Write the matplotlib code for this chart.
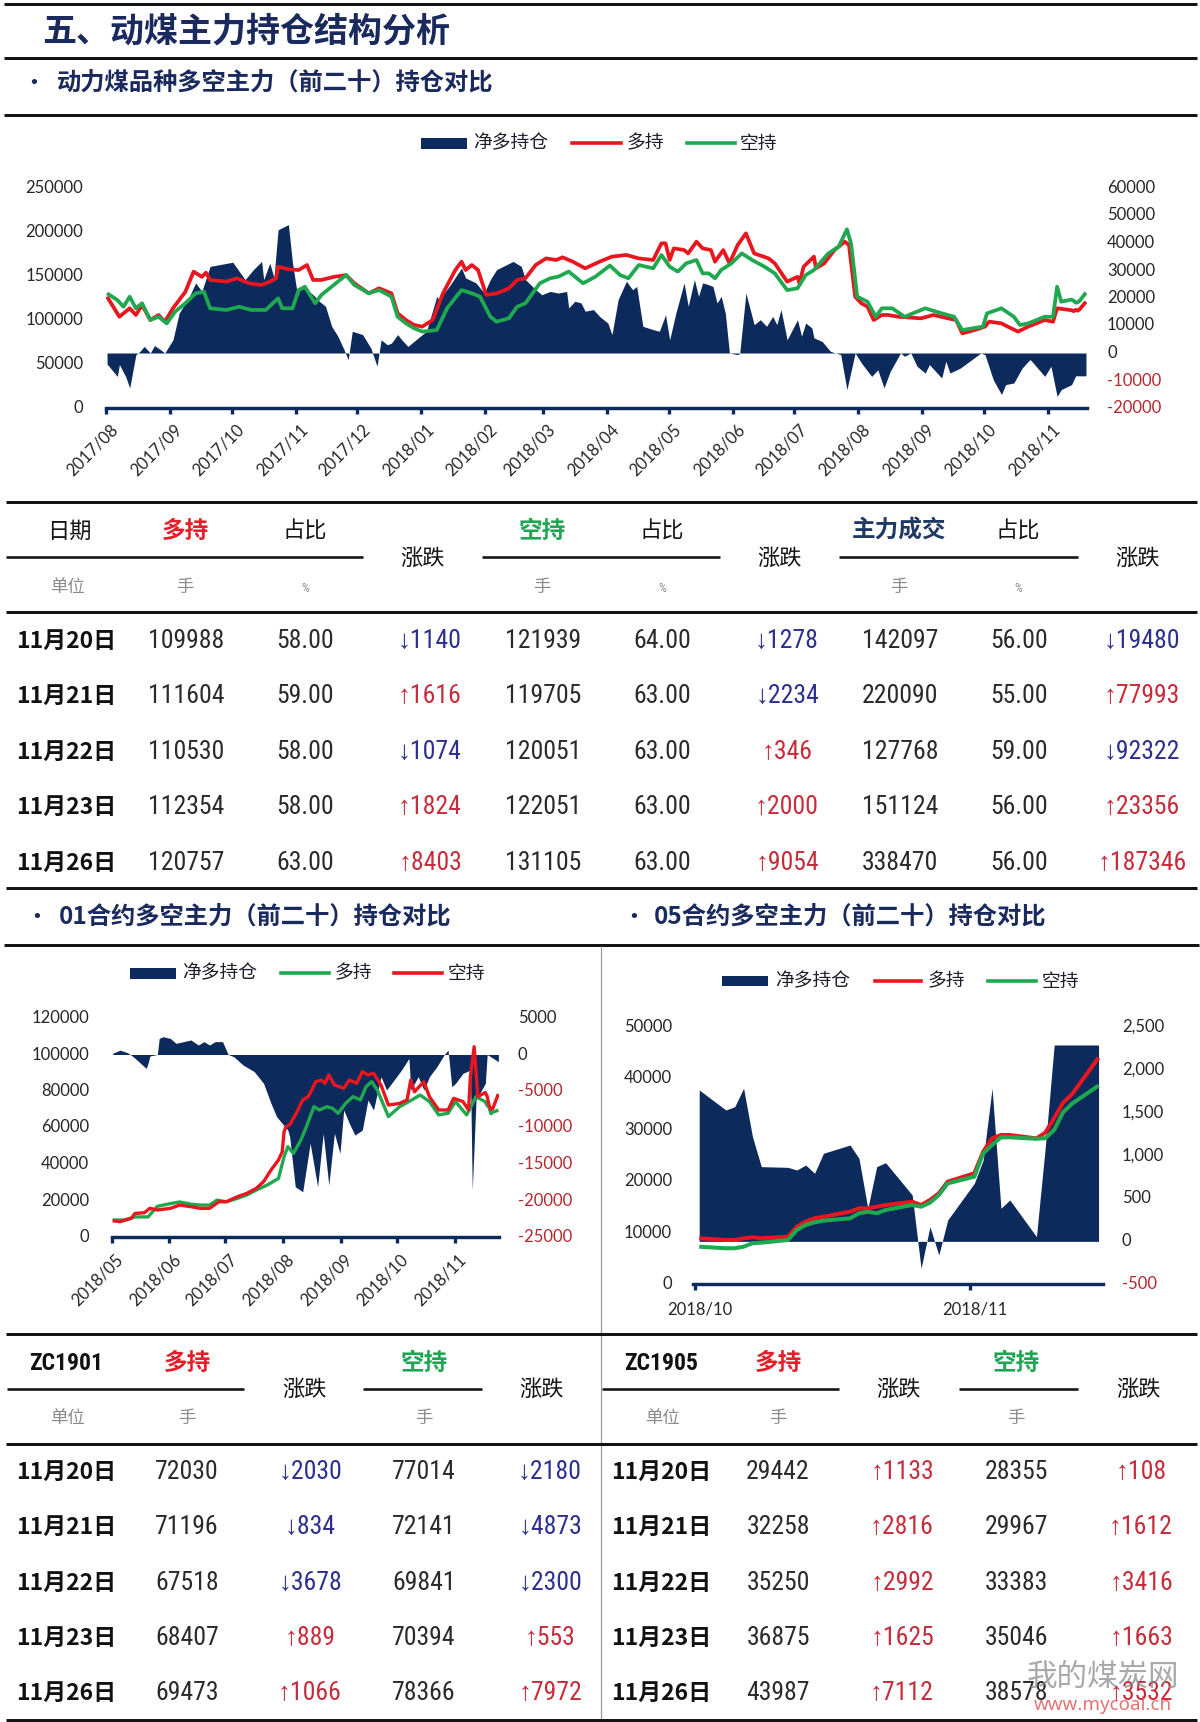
import matplotlib
matplotlib.use('Agg')
import matplotlib.pyplot as plt
import matplotlib.dates as mdates
from matplotlib.lines import Line2D
from matplotlib.patches import Rectangle
from matplotlib.transforms import blended_transform_factory, ScaledTranslation
import numpy as np
import pandas as pd

CJK = ['Noto Sans CJK SC', 'DejaVu Sans']
NUM = ['Roboto Condensed', 'Liberation Sans Narrow', 'Liberation Sans', 'DejaVu Sans']
NUMCJK = ['Liberation Sans Narrow', 'Noto Sans CJK SC', 'DejaVu Sans']
TICKF = ['Lato', 'DejaVu Sans']
plt.rcParams['font.family'] = CJK

# ---------------------------------------------------------------- data
# Top chart: 动力煤品种多空主力（前二十）持仓对比 (day offsets from top_base)
top_base = '2017-08-08'
top_end = '2018-11-26'
top_red_day = [0, 6, 11, 14, 17, 21, 25, 28, 32, 38, 42, 46, 48, 50, 58, 63, 69, 75, 79, 82,
               83, 88, 93, 97, 100, 104, 110, 116, 120, 127, 132, 138, 141, 145, 149, 153, 158, 163, 169, 172,
               174, 177, 180, 184, 189, 195, 199, 203, 208, 213, 218, 221, 226, 232, 239, 245, 252, 258, 265, 269,
               271, 273, 275, 280, 282, 286, 289, 293, 295, 299, 302, 306, 310, 314, 321, 324, 330, 335, 336, 338,
               343, 344, 348, 353, 358, 360, 363, 366, 369, 372, 376, 379, 384, 395, 401, 408, 412, 415, 421, 426,
               428, 434, 437, 442, 447, 455, 459, 461, 468, 469, 470, 471, 472, 475]
top_red = [126500, 103700, 113300, 105700, 117000, 100000, 105700, 98000, 113300, 132000,
           155000, 149000, 153800, 145500, 143600, 147400, 141700, 139800, 143600, 147400,
           160600, 157600, 156800, 162500, 145500, 145500, 149000, 151000, 141700, 130300,
           136000, 130300, 107600, 100000, 94300, 92500, 100000, 130300, 156800, 166300,
           156800, 162500, 156800, 128400, 130300, 136000, 145500, 147400, 162500, 170000,
           168200, 171200, 166300, 158700, 166300, 172000, 173900, 170000, 168200, 187100,
           187100, 168200, 181400, 179500, 175700, 189000, 181400, 179500, 166300, 179500,
           164400, 185200, 198400, 175700, 170000, 164400, 143600, 149000, 141700, 160600,
           172000, 158700, 164400, 179500, 189000, 185200, 126500, 119000, 115100, 100000,
           105700, 105700, 103700, 101900, 105700, 101900, 100000, 84800, 88600, 92500,
           98100, 96200, 92500, 86800, 92500, 100000, 98000, 113300, 111128, 109988,
           111604, 110530, 112354, 120757]
top_green_day = [0, 5, 8, 11, 14, 17, 21, 25, 29, 33, 38, 43, 47, 50, 58, 64, 70, 77, 83, 85,
                 90, 93, 96, 101, 104, 112, 116, 120, 127, 132, 138, 141, 145, 149, 153, 160, 165, 172, 177, 181,
                 186, 189, 195, 199, 203, 210, 215, 219, 224, 231, 237, 244, 249, 253, 258, 265, 269, 273, 277, 281,
                 286, 289, 292, 295, 298, 303, 308, 313, 319, 324, 330, 335, 339, 343, 350, 355, 359, 361, 364, 369,
                 373, 376, 381, 387, 397, 405, 411, 415, 425, 427, 434, 440, 443, 447, 455, 459, 461, 463, 468, 469,
                 470, 471, 472, 475]
top_green = [130300, 122700, 115100, 126500, 113300, 119000, 100000, 103700, 96200, 109400,
             119000, 130300, 132100, 113300, 111400, 115100, 111400, 111400, 124600, 113300,
             113300, 134000, 137800, 119000, 128400, 143600, 151000, 139800, 130300, 134000,
             126500, 103700, 96200, 90600, 86800, 88600, 113300, 134000, 130300, 126500,
             103700, 98100, 101900, 115100, 119000, 141700, 147400, 149300, 155000, 141700,
             149300, 161900, 151000, 147400, 162500, 158700, 173900, 160600, 155000, 164400,
             168200, 153000, 153000, 147400, 156800, 164400, 175700, 168200, 160600, 153000,
             134000, 136000, 151000, 156800, 175700, 183300, 203000, 187100, 126500, 120800,
             103700, 113300, 113300, 103700, 113300, 107600, 103700, 88600, 92500, 107600,
             113300, 103700, 94300, 96200, 103700, 103700, 137800, 120800, 123217, 121939,
             119705, 120051, 122051, 131105]
top_net_day = [0, 5, 6, 9, 11, 14, 16, 18, 21, 23, 26, 28, 32, 35, 40, 43, 46, 50, 61, 67,
               71, 75, 76, 79, 81, 83, 88, 90, 92, 95, 100, 103, 106, 109, 112, 115, 117, 119, 124, 128,
               131, 133, 136, 138, 141, 143, 146, 152, 155, 160, 161, 166, 172, 174, 179, 183, 186, 189, 197, 201,
               203, 208, 211, 215, 219, 223, 224, 227, 230, 232, 236, 239, 243, 245, 248, 252, 255, 257, 260, 265,
               268, 271, 273, 276, 280, 282, 285, 287, 289, 292, 294, 296, 298, 300, 302, 306, 307, 310, 314, 317,
               320, 323, 325, 327, 330, 335, 337, 339, 342, 343, 347, 351, 356, 359, 363, 366, 371, 374, 377, 380,
               385, 387, 390, 393, 397, 399, 405, 407, 409, 414, 424, 426, 430, 434, 436, 440, 444, 447, 448, 455,
               458, 461, 463, 468, 470, 475]
top_net = [-4000, -8500, -4200, -8500, -12700, -600, 600, 2400, 0, 2700,
           1200, 0, 4800, 14500, 20600, 25500, 22400, 31500, 33000, 26700,
           30300, 33300, 26700, 32700, 27300, 44800, 46700, 32700, 23000, 24200,
           21200, 18800, 17000, 9700, 6100, 1200, -2400, 7900, 6700, 1800,
           -4800, 4800, 3000, 3600, 6700, 4800, 2400, 6100, 7900, 20600,
           19400, 24200, 30900, 27300, 25500, 21800, 26700, 30300, 33300, 31500,
           26700, 23000, 21200, 22400, 21800, 22400, 16400, 18800, 18200, 15200,
           15800, 13300, 10900, 6700, 19400, 26100, 23000, 24200, 9700, 8500,
           7900, 13900, 4800, 14500, 25500, 17000, 26700, 20600, 25500, 24800,
           24200, 18200, 20600, 14500, 0, -600, 0, 21800, 10300, 12100,
           9700, 13300, 10300, 15800, 4800, 12100, 6100, 10900, 9100, 5500,
           4200, 600, -600, -13300, 0, -3600, -8500, -6100, -12700, -6700,
           0, -1200, 0, -4800, -7300, -4200, -9100, -3000, -7300, -5500,
           0, -600, -9700, -15100, -11500, -10900, -5500, -3000, -2400, -8500,
           -4800, -15800, -13300, -11500, -8300, -8300]
top_left_ticks = [0, 50000, 100000, 150000, 200000, 250000]
top_right_ticks = [-20000, -10000, 0, 10000, 20000, 30000, 40000, 50000, 60000]

# 01 contract chart (day offsets from o1_base); 多持 green, 空持 red
o1_base = '2018-05-03'
o1_end = '2018-11-26'
o1_long_day = [0, 6, 12, 19, 24, 31, 36, 42, 47, 52, 56, 61, 67, 72, 77, 83, 89, 92, 94, 97,
               101, 104, 108, 111, 115, 118, 121, 125, 129, 133, 136, 139, 142, 148, 154, 159, 165, 170, 175, 180,
               184, 190, 195, 200, 201, 202, 203, 204, 207]
o1_long = [9300, 9300, 11000, 11000, 16800, 18300, 19200, 18000, 17500, 17500,
           20200, 19300, 21200, 23000, 25700, 28500, 32100, 44000, 49500, 45800,
           53100, 60500, 71400, 69600, 71400, 70500, 67800, 73200, 76900, 75100,
           82400, 85100, 80600, 66000, 71400, 74200, 77800, 74200, 66900, 67800,
           74200, 66900, 76900, 74060, 72030, 71196, 67518, 68407, 69473]
o1_short_day = [0, 4, 10, 12, 17, 20, 24, 31, 36, 42, 47, 52, 57, 61, 67, 72, 77, 81, 85, 89,
                91, 92, 93, 95, 99, 102, 105, 109, 112, 114, 116, 119, 124, 127, 131, 134, 137, 140, 144, 148,
                154, 158, 160, 162, 167, 170, 175, 180, 183, 188, 191, 192, 194, 196, 200, 201, 202, 203, 204, 207]
o1_short = [8900, 8400, 10200, 12900, 13300, 15700, 14800, 15700, 17500, 16600,
            15700, 15700, 19300, 19300, 22100, 23900, 26600, 30300, 36700, 42200,
            46700, 57700, 60500, 61400, 68700, 75100, 76900, 85100, 86000, 84200,
            88800, 83300, 81500, 86000, 84200, 90600, 88800, 89700, 83300, 72300,
            73200, 75100, 86000, 79600, 85100, 76900, 69600, 69600, 76000, 74200,
            69600, 87900, 104300, 76900, 79194, 77014, 72141, 69841, 70394, 78366]
o1_net_day = [0, 4, 8, 11, 13, 16, 18, 19, 20, 24, 25, 27, 31, 34, 38, 42, 46, 49, 52, 55,
              59, 62, 65, 70, 76, 81, 85, 88, 91, 94, 95, 98, 102, 106, 110, 113, 116, 119, 122, 124,
              127, 130, 134, 137, 140, 144, 147, 151, 155, 159, 160, 164, 167, 170, 174, 178, 180, 182, 184, 188,
              192, 193, 195, 198, 200, 201, 207]
o1_net = [160, 600, 250, -300, -750, -1440, -1900, -1200, -200, 0,
          2200, 2440, 2200, 1530, 1760, 1990, 1300, 1760, 1300, 1760,
          1760, 0, -300, -1440, -2350, -3950, -6700, -8520, -9430, -10350,
          -11260, -18110, -18800, -12170, -18110, -10800, -17880, -10800, -13540, -7600,
          -9430, -11030, -10350, -6240, -7600, -3040, -4860, -3500, -2130, -530,
          -4860, -3040, -4860, -3040, -1670, 0, 600, -4410, -3950, -2580,
          -2130, -18570, -6240, -4860, -3950, 0, -980]
o1_left_ticks = [0, 20000, 40000, 60000, 80000, 100000, 120000]
o1_right_ticks = [-25000, -20000, -15000, -10000, -5000, 0, 5000]

# 05 contract chart; 多持 red, 空持 green
o5_dates = ['2018-10-12', '2018-10-15', '2018-10-16', '2018-10-17', '2018-10-18', '2018-10-19',
            '2018-10-22', '2018-10-23', '2018-10-24', '2018-10-25', '2018-10-26',
            '2018-10-29', '2018-10-30', '2018-10-31', '2018-11-01', '2018-11-02',
            '2018-11-05', '2018-11-06', '2018-11-07', '2018-11-08', '2018-11-09',
            '2018-11-12', '2018-11-13', '2018-11-14', '2018-11-15', '2018-11-16',
            '2018-11-19', '2018-11-20', '2018-11-21', '2018-11-22', '2018-11-23', '2018-11-26']
o5_long = [8930, 8600, 8600, 8930, 9120, 8930, 9240, 11180, 12150, 12810, 13120,
           14090, 14750, 14750, 15060, 15390, 16030, 15390, 16360, 17660, 19920,
           21540, 25740, 28340, 28980, 28980, 28309, 29442, 32258, 35250, 36875, 43987]
o5_short = [7300, 6990, 7000, 7300, 7960, 8080, 8600, 10540, 11510, 12030, 12350,
            12810, 13780, 14090, 13780, 14420, 15390, 15060, 15840, 17330, 19600,
            20880, 25420, 27040, 28530, 28530, 28247, 28355, 29967, 33383, 35046, 38578]
o5_net = [1763, 1530, 1568, 1783, 1219, 870, 862, 831, 889, 793, 1026,
          1122, 967, 385, 870, 916, 540, -314, 171, -159, 249,
          676, 948, 1783, 385, 482, 55, 1102, 2287, 2287, 2287, 2287]
o5_left_ticks = [0, 10000, 20000, 30000, 40000, 50000]
o5_right_ticks = [-500, 0, 500, 1000, 1500, 2000, 2500]
o5_tick_dates = ['2018-10-12', '2018-11-12']

# Tables
t_dates = ['11月20日', '11月21日', '11月22日', '11月23日', '11月26日']
t1_long = [109988, 111604, 110530, 112354, 120757]
t1_long_pct = ['58.00', '59.00', '58.00', '58.00', '63.00']
t1_long_chg = [-1140, 1616, -1074, 1824, 8403]
t1_short = [121939, 119705, 120051, 122051, 131105]
t1_short_pct = ['64.00', '63.00', '63.00', '63.00', '63.00']
t1_short_chg = [-1278, -2234, 346, 2000, 9054]
t1_vol = [142097, 220090, 127768, 151124, 338470]
t1_vol_pct = ['56.00', '55.00', '59.00', '56.00', '56.00']
t1_vol_chg = [-19480, 77993, -92322, 23356, 187346]

zc1901_long = [72030, 71196, 67518, 68407, 69473]
zc1901_long_chg = [-2030, -834, -3678, 889, 1066]
zc1901_short = [77014, 72141, 69841, 70394, 78366]
zc1901_short_chg = [-2180, -4873, -2300, 553, 7972]
zc1905_long = [29442, 32258, 35250, 36875, 43987]
zc1905_long_chg = [1133, 2816, 2992, 1625, 7112]
zc1905_short = [28355, 29967, 33383, 35046, 38578]
zc1905_short_chg = [108, 1612, 3416, 1663, 3532]

# ---------------------------------------------------------------- style
NAVY = '#0d2a5c'
RED = '#e8161e'
GREEN = '#1fa84f'
TITLEC = '#1b2a5e'
LINEC = '#141414'
AXTXT = '#262626'
NEGC = '#b3272d'
UPC = '#c62c3a'
DOWNC = '#2b2f8f'
GRAY = '#8a8a8a'
NUMC = '#2a2a2a'

W, H = 1200, 1722
fig = plt.figure(figsize=(W / 100, H / 100), dpi=100)
fig.patch.set_facecolor('white')
PX = 0.72


def X(x):
    return x / W


def Y(y):
    return 1 - y / H


def hline(x0, x1, y, w=3.0, c=LINEC):
    fig.add_artist(Line2D([X(x0), X(x1)], [Y(y), Y(y)], lw=w * PX, color=c, solid_capstyle='butt'))


def vline(x, y0, y1, w=1.2, c='#9a9a9a'):
    fig.add_artist(Line2D([X(x), X(x)], [Y(y0), Y(y1)], lw=w * PX, color=c, solid_capstyle='butt'))


def put(x, y, s, size, color=LINEC, weight='normal', family=CJK, ha='center', va='center', **kw):
    fig.text(X(x), Y(y), s, fontsize=size, color=color, fontweight=weight, family=family,
             ha=ha, va=va, **kw)


def chg(v):
    return ('↑' if v > 0 else '↓') + str(abs(v)), (UPC if v > 0 else DOWNC)


def dnum(s):
    return mdates.date2num(pd.Timestamp(s))


def chart(box, xlim, net_x, net_y, rlim, rticks, rlabels, series, llim, lticks, llabels,
          xticks, xlabels, rotate, lw, lpad, rpad, xoff):
    l, t, r, b = box
    wpx, hpx = r - l, b - t
    ax = fig.add_axes([X(l), Y(b), wpx / W, hpx / H])
    ax.fill_between(net_x, 0, net_y, color=NAVY, lw=0)
    axl = ax.twinx()
    for xs, ys, c in series:
        axl.plot(xs, ys, color=c, lw=lw, solid_joinstyle='round', solid_capstyle='butt')
    ax.set_xlim(*xlim)
    ax.set_ylim(*rlim)
    axl.set_ylim(*llim)
    for a in (ax, axl):
        a.patch.set_visible(False)
        for s in a.spines.values():
            s.set_visible(False)
        a.set_yticks([])
    ax.spines['bottom'].set_visible(True)
    ax.spines['bottom'].set_color(NAVY)
    ax.spines['bottom'].set_linewidth(3.4 * PX)
    ax.set_xticks(xticks)
    ax.set_xticklabels([''] * len(xticks))
    ax.tick_params(axis='x', direction='out', length=4, width=2.4, color=NAVY, pad=0)
    trl = blended_transform_factory(ax.transAxes, axl.transData)
    for v, s in zip(lticks, llabels):
        ax.text(-lpad / wpx, v, s, transform=trl, ha='right', va='center', fontsize=12,
                color=AXTXT, family=TICKF)
    trr = blended_transform_factory(ax.transAxes, ax.transData)
    for v, s in zip(rticks, rlabels):
        ax.text(1 + rpad / wpx, v, s, transform=trr, ha='left', va='center', fontsize=12,
                color=NEGC if v < 0 else AXTXT, family=TICKF)
    trx = blended_transform_factory(ax.transData, ax.transAxes)
    dx, dy = xoff
    off = ScaledTranslation(dx / 100, -dy / 100, fig.dpi_scale_trans)
    for xt, s in zip(xticks, xlabels):
        if rotate:
            ax.text(xt, 0, s, transform=trx + off, rotation=45, rotation_mode='anchor',
                    ha='right', va='top', fontsize=12, color=AXTXT, family=TICKF)
        else:
            ax.text(xt, 0, s, transform=trx + off, ha='center', va='center', fontsize=12,
                    color=AXTXT, family=TICKF)
    return ax, axl


def legend(rect_x, yc, rh, line1, line2, t1x, t2x, t3x, c1, c2):
    fig.add_artist(Rectangle((X(rect_x[0]), Y(yc + rh / 2)), (rect_x[1] - rect_x[0]) / W, rh / H,
                             color=NAVY, transform=fig.transFigure, lw=0))
    fig.add_artist(Line2D([X(line1[0]), X(line1[1])], [Y(yc), Y(yc)], lw=3.6 * PX, color=c1))
    fig.add_artist(Line2D([X(line2[0]), X(line2[1])], [Y(yc), Y(yc)], lw=3.6 * PX, color=c2))
    put(t1x, yc, '净多持仓', 13.5, color='#1c1c2c', ha='left')
    put(t2x, yc, '多持', 13.5, color='#1c1c2c', ha='left')
    put(t3x, yc, '空持', 13.5, color='#1c1c2c', ha='left')


# ---------------------------------------------------------------- header
hline(4, 1197, 3.5)
put(42, 31, '五、动煤主力持仓结构分析', 24.5, color=TITLEC, weight='bold', ha='left')
hline(4, 1197, 57.5)
put(34, 83, '•', 15, color=TITLEC, weight='bold')
put(57, 83, '动力煤品种多空主力（前二十）持仓对比', 17.5, color=TITLEC, weight='bold', ha='left')
hline(4, 1197, 114.5)

# ---------------------------------------------------------------- top chart
tb = dnum(top_base)
te = dnum(top_end)
top_months = pd.date_range(top_base, periods=16, freq=pd.DateOffset(months=1))
chart((106, 188, 1087, 408), (tb - 0.5, te + 0.5),
      tb + np.array(top_net_day), top_net, (-20000, 60000), top_right_ticks,
      [str(v) for v in top_right_ticks],
      [(tb + np.array(top_red_day), top_red, RED), (tb + np.array(top_green_day), top_green, GREEN)],
      (0, 250000), top_left_ticks, [str(v) for v in top_left_ticks],
      [mdates.date2num(d) - 0.5 for d in top_months], [d.strftime('%Y/%m') for d in top_months],
      True, 2.7, 23, 20, (4, 13))
legend((421, 467), 143, 11, (572, 621), (687, 735), 473, 627, 740, RED, GREEN)

# ---------------------------------------------------------------- table 1
NS = 18.5
hline(6, 1197, 502)
put(69, 531, '日期', 16)
put(185, 531, '多持', 17, color='#e3202a', weight='bold')
put(305, 531, '占比', 16)
put(542, 531, '空持', 17, color='#1ea653', weight='bold')
put(662, 531, '占比', 16)
put(899, 531, '主力成交', 17, color='#1f3864', weight='bold')
put(1018, 531, '占比', 16)
for xx in (423, 780, 1138):
    put(xx, 558, '涨跌', 16)
hline(6, 363, 557, 2.6)
hline(482, 720, 557, 2.6)
hline(839, 1078, 557, 2.6)
put(67, 587, '单位', 12.5, color=GRAY)
for xx in (185, 542, 899):
    put(xx, 587, '手', 12.5, color=GRAY)
for xx in (305, 662, 1018):
    put(xx, 588, '%', 9, color=GRAY, family=NUM)
hline(6, 1197, 612)
row_y = [641, 696, 752, 807, 863]
for i, yy in enumerate(row_y):
    put(66, yy, t_dates[i], 16.5, weight='bold', family=NUMCJK, color='#111111')
    put(186, yy, str(t1_long[i]), NS, family=NUM, color=NUMC)
    put(305, yy, t1_long_pct[i], NS, family=NUM, color=NUMC)
    s, c = chg(t1_long_chg[i]); put(430, yy, s, NS, family=NUM, color=c)
    put(543, yy, str(t1_short[i]), NS, family=NUM, color=NUMC)
    put(662, yy, t1_short_pct[i], NS, family=NUM, color=NUMC)
    s, c = chg(t1_short_chg[i]); put(787, yy, s, NS, family=NUM, color=c)
    put(900, yy, str(t1_vol[i]), NS, family=NUM, color=NUMC)
    put(1019, yy, t1_vol_pct[i], NS, family=NUM, color=NUMC)
    s, c = chg(t1_vol_chg[i]); put(1142, yy, s, NS, family=NUM, color=c)
hline(6, 1197, 888)

# ---------------------------------------------------------------- section 2 titles
put(37, 917, '•', 15, color=TITLEC, weight='bold')
put(59, 917, '01合约多空主力（前二十）持仓对比', 17.5, color=TITLEC, weight='bold', ha='left')
put(634, 917, '•', 15, color=TITLEC, weight='bold')
put(654, 917, '05合约多空主力（前二十）持仓对比', 17.5, color=TITLEC, weight='bold', ha='left')
hline(4, 1199, 944.5)
vline(601, 946, 1720)

# ---------------------------------------------------------------- 01 chart
b1 = dnum(o1_base)
e1 = dnum(o1_end)
o1_months = pd.date_range(o1_base, periods=7, freq=pd.DateOffset(months=1))
chart((111.7, 1018, 499.3, 1237), (b1 - 0.5, e1 + 0.5),
      b1 + np.array(o1_net_day), o1_net, (-25000, 5000), o1_right_ticks,
      [str(v) for v in o1_right_ticks],
      [(b1 + np.array(o1_long_day), o1_long, GREEN), (b1 + np.array(o1_short_day), o1_short, RED)],
      (0, 120000), o1_left_ticks, [str(v) for v in o1_left_ticks],
      [mdates.date2num(d) - 0.5 for d in o1_months], [d.strftime('%Y/%m') for d in o1_months],
      True, 2.4, 22.7, 18.7, (3, 14))
legend((130, 176), 973, 11, (281, 329), (394, 442), 182, 335, 448, GREEN, RED)

# ---------------------------------------------------------------- 05 chart
x5 = np.array([dnum(d) for d in o5_dates])
chart((693, 1026.7, 1103, 1284.3), (x5[0] - 0.7, x5[-1] + 0.5),
      x5, o5_net, (-500, 2500), o5_right_ticks, [f'{v:,}' for v in o5_right_ticks],
      [(x5, o5_long, RED), (x5, o5_short, GREEN)],
      (0, 50000), o5_left_ticks, [str(v) for v in o5_left_ticks],
      [dnum(d) - 0.5 for d in o5_tick_dates], [pd.Timestamp(d).strftime('%Y/%m') for d in o5_tick_dates],
      False, 2.9, 21, 19, (5, 25))
legend((722, 768), 981, 10, (875, 921), (988, 1036), 775, 928, 1042, RED, GREEN)

# ---------------------------------------------------------------- bottom tables
hline(6, 1197, 1333.5)
hline(6, 1197, 1444)
hline(6, 1197, 1720)
row2_y = [1472, 1527, 1583, 1638, 1693]
specs = [
    ('ZC1901', zc1901_long, zc1901_long_chg, zc1901_short, zc1901_short_chg,
     [66, 187, 310, 424, 550], (7, 244), (363, 482), (305, 542)),
    ('ZC1905', zc1905_long, zc1905_long_chg, zc1905_short, zc1905_short_chg,
     [661, 778, 902, 1016, 1141], (602, 839), (959, 1078), (899, 1139)),
]
for code, lg, lgc, sh, shc, cx, u1, u2, zx in specs:
    put(cx[0], 1363, code, 17, weight='bold', family=NUM, color='#111111')
    put(cx[1], 1363, '多持', 17, color='#e3202a', weight='bold')
    put(cx[3], 1363, '空持', 17, color='#1ea653', weight='bold')
    put(zx[0], 1389, '涨跌', 16)
    put(zx[1], 1389, '涨跌', 16)
    hline(u1[0], u1[1], 1388.5, 2.6)
    hline(u2[0], u2[1], 1388.5, 2.6)
    put(cx[0] + 1, 1418, '单位', 12.5, color=GRAY)
    put(cx[1], 1418, '手', 12.5, color=GRAY)
    put(cx[3], 1418, '手', 12.5, color=GRAY)
    for i, yy in enumerate(row2_y):
        put(cx[0], yy, t_dates[i], 16.5, weight='bold', family=NUMCJK, color='#111111')
        put(cx[1], yy, str(lg[i]), NS, family=NUM, color=NUMC)
        s, c = chg(lgc[i]); put(cx[2], yy, s, NS, family=NUM, color=c)
        put(cx[3], yy, str(sh[i]), NS, family=NUM, color=NUMC)
        s, c = chg(shc[i]); put(cx[4], yy, s, NS, family=NUM, color=c)

# watermark (site mark printed over the last rows in the original)
put(1103, 1677, '我的煤炭网', 22, color='#8c8c8c', alpha=0.75)
put(1103, 1705, 'www.mycoal.cn', 13.5, color='#e05050', family=['Noto Sans', 'DejaVu Sans'], alpha=0.8)

fig.savefig('out.png', dpi=100)
